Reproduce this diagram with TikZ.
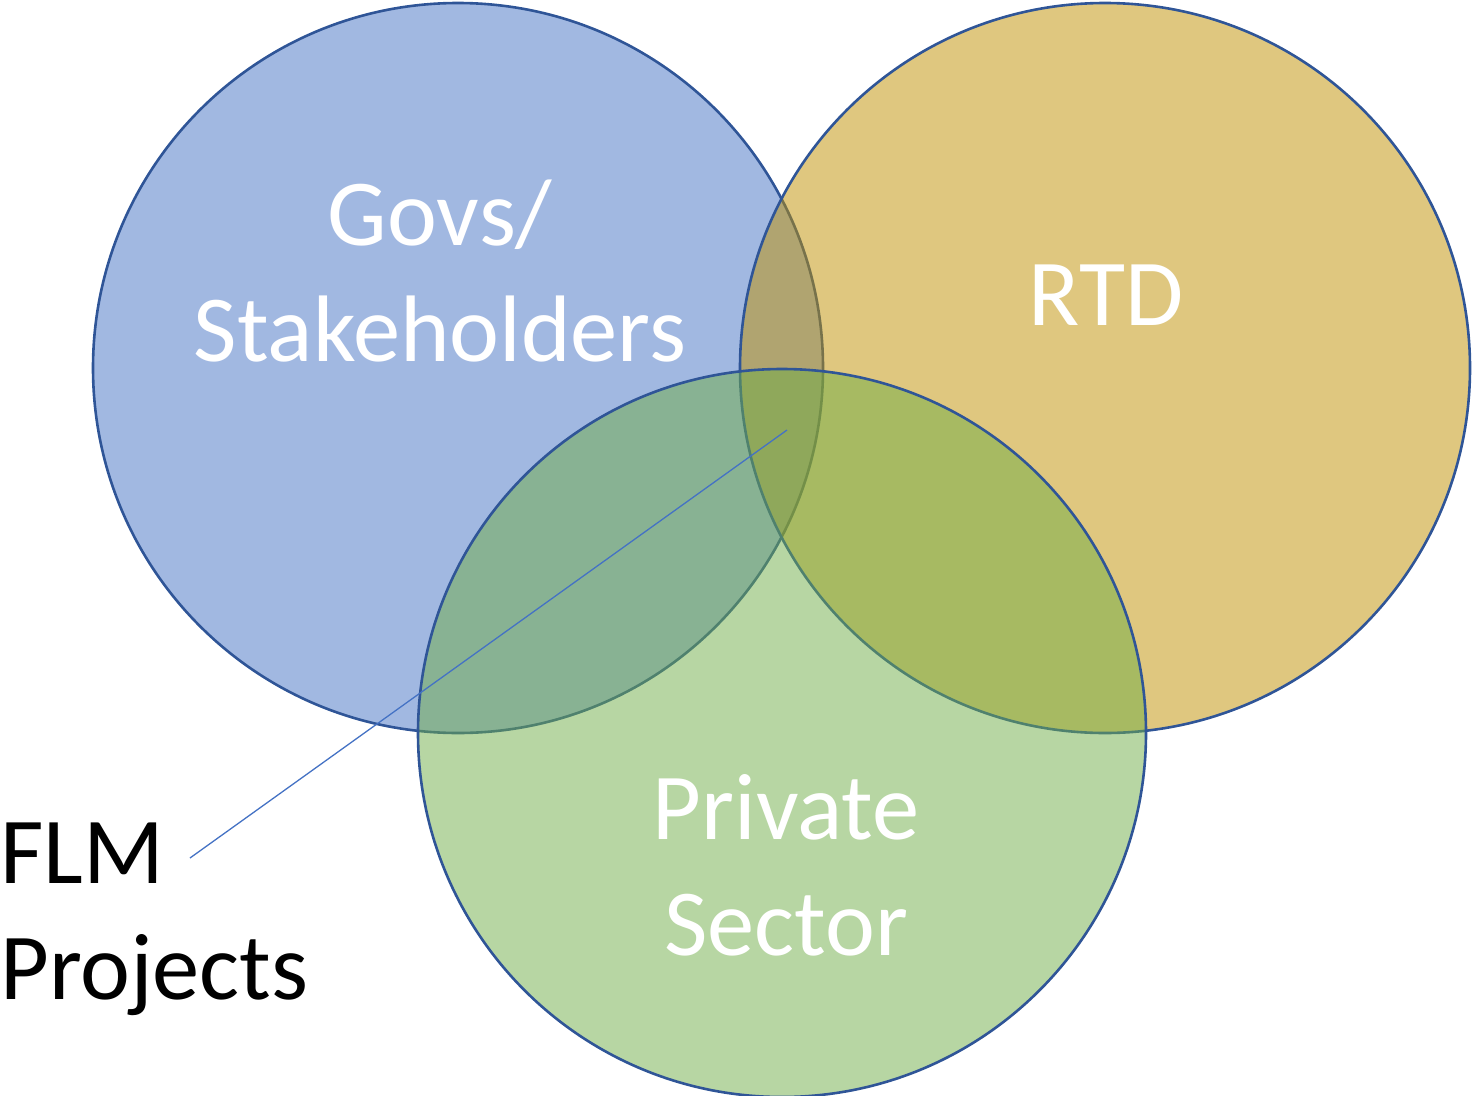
\documentclass[tikz,border=0pt]{standalone}
\usepackage{fontspec}
\setmainfont{Carlito}
\definecolor{cblue}{HTML}{4472C4}
\definecolor{cgold}{HTML}{BF9000}
\definecolor{cgreen}{HTML}{70AD47}
\definecolor{cedge}{HTML}{2F5597}
\begin{document}
\begin{tikzpicture}[x=1pt,y=-1pt,
  venn/.style={line width=2.6pt, draw=cedge},
  lbl/.style={text=white, font=\fontsize{94.5}{116}\selectfont, align=center, inner sep=0pt, anchor=north},
  flmlbl/.style={text=black, font=\fontsize{94.5}{116}\selectfont, align=left, inner sep=0pt, anchor=north west},
  lead/.style={draw=cblue, line width=1.3pt}]
\useasboundingbox (0,0) rectangle (1472,1095);
% circles: 50% fill opacity, opaque outlines, drawn in order
\fill[cblue, fill opacity=0.5] (458,368) circle[radius=365];
\draw[venn] (458,368) circle[radius=365];
\fill[cgold, fill opacity=0.5] (1105,368) circle[radius=365];
\draw[venn] (1105,368) circle[radius=365];
\fill[cgreen, fill opacity=0.5] (782,733) circle[radius=364];
\draw[venn] (782,733) circle[radius=364];
% labels
\node[lbl] (govs) at (440,180) {Govs/\\Stakeholders};
\node[lbl] (rtd) at (1106,265) {RTD};
\node[lbl] (priv) at (786,774) {Private\\Sector};
\node[flmlbl] (flm) at (0,823) {FLM\\Projects};
% leader line
\coordinate (lstart) at (190,858);
\coordinate (lend) at (787,430);
\draw[lead] (lstart) -- (lend);
\end{tikzpicture}
\end{document}
